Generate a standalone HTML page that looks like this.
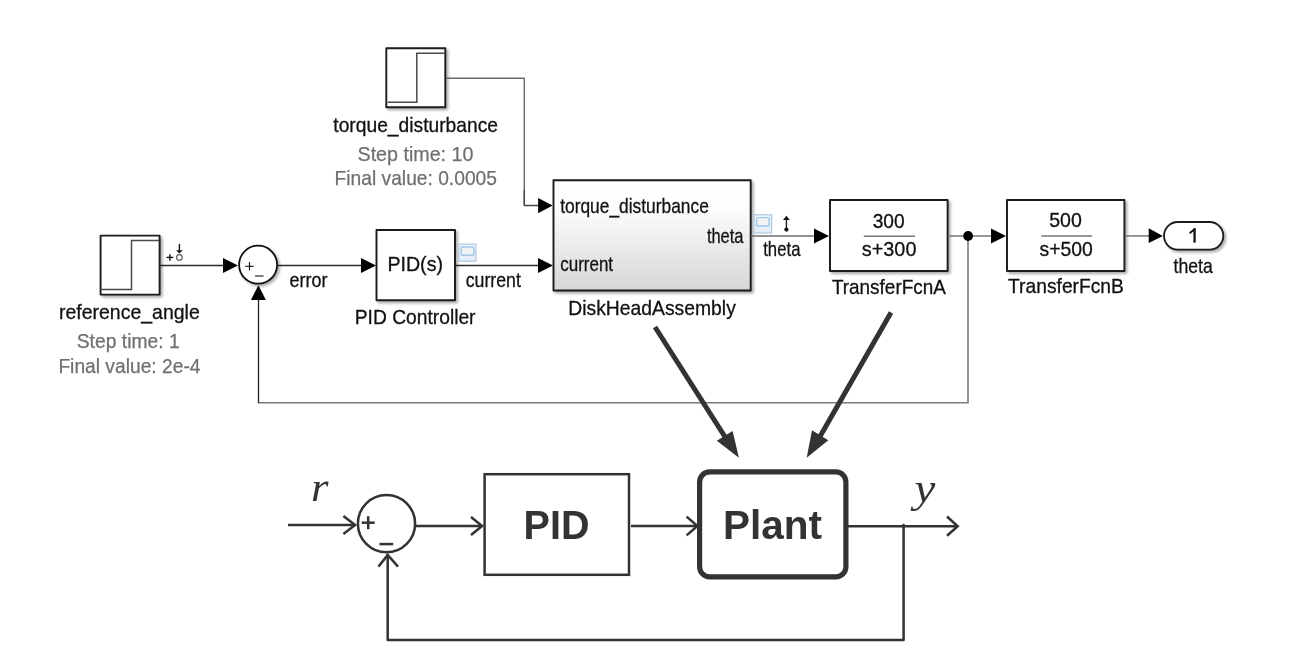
<!DOCTYPE html>
<html>
<head>
<meta charset="utf-8">
<style>
html,body{margin:0;padding:0;background:#fff;width:1290px;height:666px;overflow:hidden;}
svg{display:block;}
.aa{opacity:0.999;}
text{font-family:"Liberation Sans",sans-serif;}
.lbl{font-size:19px;fill:#111;stroke:#111;stroke-width:0.3px;}
.grey{font-size:19px;fill:#6f6f6f;stroke:#6f6f6f;stroke-width:0.25px;}
</style>
</head>
<body>
<svg width="1290" height="666" viewBox="0 0 1290 666">
<defs>
  <linearGradient id="dg" x1="0" y1="0" x2="0" y2="1">
    <stop offset="0" stop-color="#ffffff"/>
    <stop offset="0.25" stop-color="#fdfdfd"/>
    <stop offset="1" stop-color="#d6d6d6"/>
  </linearGradient>
  <linearGradient id="mg" x1="0" y1="0" x2="0" y2="1"><stop offset="0" stop-color="#f3f8fd"/><stop offset="1" stop-color="#e2edf8"/></linearGradient>
  <filter id="sh" x="-10%" y="-10%" width="130%" height="130%">
    <feGaussianBlur in="SourceAlpha" stdDeviation="1.5"/>
    <feOffset dx="2" dy="2" result="o"/>
    <feComponentTransfer><feFuncA type="linear" slope="0.35"/></feComponentTransfer>
    <feMerge><feMergeNode/><feMergeNode in="SourceGraphic"/></feMerge>
  </filter>
</defs>
<g class="aa">

<!-- ============ TOP SIMULINK DIAGRAM ============ -->
<!-- torque step block -->
<g filter="url(#sh)">
<rect x="386.3" y="48.3" width="59" height="59" fill="#fff" stroke="#1a1a1a" stroke-width="1.9" stroke-linejoin="round"/>
</g>
<polyline points="387.5,102.2 416.8,102.2 416.8,53.3 444.5,53.3" fill="none" stroke="#4a4a4a" stroke-width="1.5"/>
<text id="t_torque_lbl" class="lbl" x="333.33" y="131.60" style="font-size:21.00px" textLength="164.70" lengthAdjust="spacingAndGlyphs">torque_disturbance</text>
<text id="t_step10" class="grey" x="357.52" y="160.50" style="font-size:21.00px" textLength="115.89" lengthAdjust="spacingAndGlyphs">Step time: 10</text>
<text id="t_final0005" class="grey" x="334.58" y="185.30" style="font-size:21.00px" textLength="162.39" lengthAdjust="spacingAndGlyphs">Final value: 0.0005</text>

<!-- torque line -->
<polyline points="446,78.2 524.3,78.2 524.3,204.8" fill="none" stroke="#6a6a6a" stroke-width="1.45"/><polyline points="524.3,190 524.3,205.5 539,205.5" fill="none" stroke="#444" stroke-width="1.35"/>
<polygon points="538.1,198.1 552.7,205.5 538.1,213.2" fill="#000"/>

<!-- reference step block -->
<g filter="url(#sh)">
<rect x="100.6" y="235.6" width="59" height="59" fill="#fff" stroke="#1a1a1a" stroke-width="1.9" stroke-linejoin="round"/>
</g>
<polyline points="101.5,289.5 131.5,289.5 131.5,240.5 159,240.5" fill="none" stroke="#4a4a4a" stroke-width="1.5"/>
<text id="t_ref_lbl" class="lbl" x="58.97" y="318.70" style="font-size:21.00px" textLength="140.78" lengthAdjust="spacingAndGlyphs">reference_angle</text>
<text id="t_step1" class="grey" x="76.74" y="348.00" style="font-size:21.00px" textLength="102.92" lengthAdjust="spacingAndGlyphs">Step time: 1</text>
<text id="t_final2e4" class="grey" x="58.38" y="373.40" style="font-size:21.00px" textLength="142.10" lengthAdjust="spacingAndGlyphs">Final value: 2e-4</text>

<!-- +o marker -->
<line x1="166.5" y1="257.4" x2="173.3" y2="257.4" stroke="#111" stroke-width="1.4"/><line x1="169.9" y1="254.2" x2="169.9" y2="260.7" stroke="#111" stroke-width="1.4"/>
<circle cx="179.4" cy="257.4" r="2.8" fill="none" stroke="#555" stroke-width="1.1"/>
<line x1="179.4" y1="243.9" x2="179.4" y2="250.5" stroke="#111" stroke-width="1.4"/>
<polygon points="176,250.2 182.8,250.2 179.4,253.6" fill="#111"/>

<!-- line ref -> sum -->
<line x1="160" y1="265.45" x2="224" y2="265.45" stroke="#2a2a2a" stroke-width="1.35"/>
<polygon points="223,258 238,265.5 223,273" fill="#000"/>

<!-- sum circle -->
<g filter="url(#sh)">
<circle cx="258.1" cy="264.7" r="19" fill="#fff" stroke="#111" stroke-width="1.8"/>
</g>
<line x1="245.3" y1="266.3" x2="253.7" y2="266.3" stroke="#111" stroke-width="1.1"/><line x1="249.5" y1="262.1" x2="249.5" y2="270.5" stroke="#111" stroke-width="1.1"/>
<line x1="255.1" y1="276" x2="263.5" y2="276" stroke="#111" stroke-width="1.1"/>
<!-- feedback arrow into sum bottom -->
<polygon points="250.9,300 258.4,285.2 265.9,300" fill="#000"/>

<!-- sum -> PID -->
<line x1="278" y1="265.45" x2="362" y2="265.45" stroke="#2a2a2a" stroke-width="1.35"/>
<polygon points="361,258 376,265.5 361,273" fill="#000"/>
<text id="t_error" class="lbl" x="289.53" y="286.80" style="font-size:21.00px" textLength="37.89" lengthAdjust="spacingAndGlyphs">error</text>

<!-- PID block -->
<g filter="url(#sh)">
<rect x="376.5" y="230" width="78.5" height="70.2" fill="#fff" stroke="#1a1a1a" stroke-width="1.9" stroke-linejoin="round"/>
</g>
<text id="t_PIDs" class="lbl" x="387.45" y="271.40" style="font-size:21.00px" textLength="55.53" lengthAdjust="spacingAndGlyphs">PID(s)</text>
<text id="t_PIDctrl" class="lbl" x="354.76" y="324.10" style="font-size:21.00px" textLength="120.79" lengthAdjust="spacingAndGlyphs">PID Controller</text>

<!-- signal marker (PID) -->
<rect x="458.7" y="244.2" width="17.2" height="17" fill="url(#mg)" stroke="#b9cde2" stroke-width="1.4"/>
<rect x="461.2" y="247" width="12.6" height="8.2" rx="1.2" fill="#f2f2f2" stroke="#9cc8ea" stroke-width="1.4"/>

<!-- PID -> DiskHead -->
<line x1="455" y1="265.45" x2="539" y2="265.45" stroke="#2a2a2a" stroke-width="1.35"/>
<polygon points="538,258 553,265.5 538,273" fill="#000"/>
<text id="t_current_out" class="lbl" x="465.74" y="286.60" style="font-size:21.00px" textLength="55.08" lengthAdjust="spacingAndGlyphs">current</text>

<!-- DiskHeadAssembly -->
<g filter="url(#sh)">
<rect x="553.5" y="180.3" width="197.2" height="110.2" fill="url(#dg)" stroke="#1a1a1a" stroke-width="1.9" stroke-linejoin="round"/>
</g>
<text id="t_td_in" class="lbl" x="560.21" y="212.50" style="font-size:21.00px" textLength="148.63" lengthAdjust="spacingAndGlyphs">torque_disturbance</text>
<text id="t_cur_in" class="lbl" x="560.19" y="271.40" style="font-size:21.00px" textLength="52.89" lengthAdjust="spacingAndGlyphs">current</text>
<text id="t_theta_in" class="lbl" x="706.89" y="242.50" style="font-size:21.00px" textLength="36.64" lengthAdjust="spacingAndGlyphs">theta</text>
<text id="t_DHA" class="lbl" x="568.27" y="314.50" style="font-size:21.00px" textLength="167.57" lengthAdjust="spacingAndGlyphs">DiskHeadAssembly</text>

<!-- DiskHead -> TF A -->
<line x1="751" y1="235.9" x2="815" y2="235.9" stroke="#6e6e6e" stroke-width="1.5"/>
<polygon points="814,228.5 829,236 814,243.5" fill="#000"/>
<rect x="754" y="214.8" width="17.6" height="18.2" fill="url(#mg)" stroke="#b9cde2" stroke-width="1.4"/>
<rect x="756.6" y="217.6" width="12.6" height="8.4" rx="1.2" fill="#f2f2f2" stroke="#9cc8ea" stroke-width="1.4"/>
<line x1="786.4" y1="219" x2="786.4" y2="229.6" stroke="#222" stroke-width="1.4"/>
<polygon points="783,219.9 789.8,219.9 786.4,215.8" fill="#111"/>
<circle cx="786.4" cy="229.6" r="2.1" fill="#111"/>
<text id="t_theta_lbl" class="lbl" x="763.21" y="255.80" style="font-size:21.00px" textLength="37.26" lengthAdjust="spacingAndGlyphs">theta</text>

<!-- TransferFcnA -->
<g filter="url(#sh)">
<rect x="830" y="200" width="117.6" height="71" fill="#fff" stroke="#1a1a1a" stroke-width="1.9" stroke-linejoin="round"/>
</g>
<text id="t_300" class="lbl" x="872.67" y="227.70" style="font-size:21.00px" textLength="31.97" lengthAdjust="spacingAndGlyphs">300</text>
<line x1="863.8" y1="236.2" x2="915" y2="236.2" stroke="#777" stroke-width="1.5"/>
<text id="t_s300" class="lbl" x="861.84" y="256.40" style="font-size:21.00px" textLength="54.60" lengthAdjust="spacingAndGlyphs">s+300</text>
<text id="t_TFA" class="lbl" x="831.89" y="294.00" style="font-size:21.00px" textLength="114.01" lengthAdjust="spacingAndGlyphs">TransferFcnA</text>

<!-- TF A -> TF B -->
<line x1="948" y1="235.9" x2="992" y2="235.9" stroke="#777" stroke-width="1.5"/>
<polygon points="991,228.5 1006,236 991,243.5" fill="#000"/>

<!-- TransferFcnB -->
<g filter="url(#sh)">
<rect x="1007" y="200" width="117.4" height="71" fill="#fff" stroke="#1a1a1a" stroke-width="1.9" stroke-linejoin="round"/>
</g>
<text id="t_500" class="lbl" x="1049.25" y="227.20" style="font-size:21.00px" textLength="32.60" lengthAdjust="spacingAndGlyphs">500</text>
<line x1="1041.3" y1="236" x2="1092.1" y2="236" stroke="#777" stroke-width="1.5"/>
<text id="t_s500" class="lbl" x="1039.49" y="256.00" style="font-size:21.00px" textLength="53.32" lengthAdjust="spacingAndGlyphs">s+500</text>
<text id="t_TFB" class="lbl" x="1008.09" y="293.30" style="font-size:21.00px" textLength="115.83" lengthAdjust="spacingAndGlyphs">TransferFcnB</text>

<!-- TF B -> outport -->
<line x1="1125" y1="235.9" x2="1150" y2="235.9" stroke="#777" stroke-width="1.5"/>
<polygon points="1148.7,228.3 1162.9,235.9 1148.7,243.1" fill="#000"/>
<g filter="url(#sh)">
<rect x="1164" y="222" width="59.3" height="27.6" rx="13.8" ry="13.8" fill="#fff" stroke="#1a1a1a" stroke-width="1.8"/>
</g>
<path d="M1193.4,228.3 L1195.7,228.3 L1195.7,242.6 L1193.4,242.6 Z" fill="#111"/><line x1="1194.6" y1="229.2" x2="1190.2" y2="232.8" stroke="#111" stroke-width="1.9" stroke-linecap="round"/>
<text id="t_theta_out" class="lbl" x="1173.51" y="273.10" style="font-size:21.00px" textLength="39.27" lengthAdjust="spacingAndGlyphs">theta</text>

<!-- feedback line -->
<polyline points="968,236 968,402.7 258.5,402.7" fill="none" stroke="#7a7a7a" stroke-width="1.6"/>
<line x1="258.5" y1="403.2" x2="258.5" y2="299" stroke="#222" stroke-width="1.3"/>
<circle cx="968.1" cy="236" r="4.9" fill="#000"/>

<!-- ============ BIG ARROWS ============ -->
<line x1="655" y1="327" x2="727" y2="440" stroke="#333" stroke-width="5"/>
<polygon points="738.9,457.7 716.8,440.8 732.6,430.9" fill="#333"/>
<line x1="891" y1="312.5" x2="818" y2="440" stroke="#333" stroke-width="5"/>
<polygon points="806.7,457.7 812,430.3 828.3,440.2" fill="#333"/>

<!-- ============ BOTTOM BLOCK DIAGRAM ============ -->
<g stroke="#333" fill="none" stroke-width="2.5">
  <line x1="288" y1="525" x2="355" y2="525"/>
  <polyline points="343.4,515.9 355.1,525 343.4,534"/>
  <circle cx="386.5" cy="523.7" r="28.6"/>
  <line x1="416" y1="526" x2="482" y2="526"/>
  <polyline points="471,517 482.1,526 471,535"/>
  <rect x="484.6" y="474.2" width="144.4" height="100.6"/>
  <line x1="631" y1="526" x2="697" y2="526"/>
  <polyline points="686.6,516.6 697.4,526 686.6,535.4"/>
  <rect x="699.6" y="471.9" width="146.3" height="104.9" rx="10" ry="10" stroke-width="5.2"/>
  <line x1="848" y1="526.2" x2="957" y2="526.2"/>
  <polyline points="947,516.5 957.7,526.2 947,535.7"/>
  <polyline points="903.6,525 903.6,639.9 387.7,639.9 387.7,555" stroke-linejoin="round" stroke-linecap="round"/>
  <polyline points="378.5,566.6 387.7,555 398,566.6"/>
  <line x1="361.7" y1="522.7" x2="374.7" y2="522.7"/>
  <line x1="368.2" y1="516.2" x2="368.2" y2="529.2"/>
  <line x1="379.5" y1="544.1" x2="393.2" y2="544.1"/>
</g>
<text transform="translate(523.55 539.00) scale(1.0140 1.0302)" font-size="39" font-weight="bold" font-style="normal" fill="#333" style="font-family:'Liberation Sans'">PID</text>
<text transform="translate(723.07 539.32) scale(1.0128 0.9974)" font-size="40" font-weight="bold" font-style="normal" fill="#333" style="font-family:'Liberation Sans'">Plant</text>
<text transform="translate(310.94 501.39) scale(1.1225 0.9908)" font-size="40" font-weight="normal" font-style="italic" fill="#333" style="font-family:'Liberation Serif'">r</text>
<text transform="translate(914.38 501.74) scale(1.1720 0.9774)" font-size="40" font-weight="normal" font-style="italic" fill="#333" style="font-family:'Liberation Serif'">y</text>
</g>
</svg>
</body>
</html>
